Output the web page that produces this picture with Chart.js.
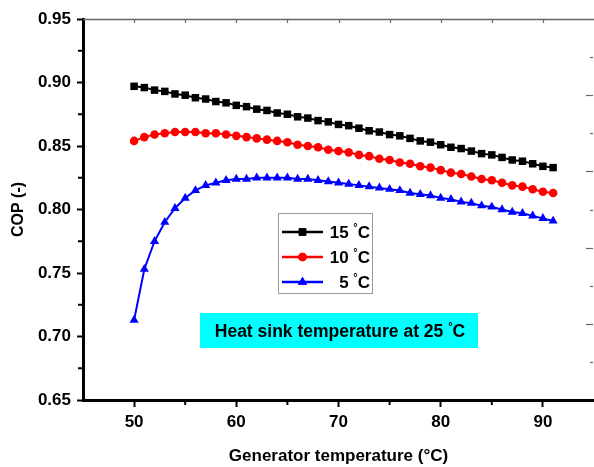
<!DOCTYPE html>
<html><head><meta charset="utf-8">
<script src="https://cdn.jsdelivr.net/npm/chart.js@4.4.0/dist/chart.umd.min.js"></script>
<style>html,body{margin:0;padding:0;background:#fff;}#wrap{width:594px;height:467px;}</style>
</head><body><div id="wrap"><canvas id="c" width="594" height="467"></canvas></div>
<script>
const genTemp = [50,51,52,53,54,55,56,57,58,59,60,61,62,63,64,65,66,67,68,69,70,71,72,73,74,75,76,77,78,79,80,81,82,83,84,85,86,87,88,89,90,91];
const cop15 = [0.897,0.896,0.894,0.893,0.891,0.890,0.888,0.887,0.885,0.884,0.882,0.881,0.879,0.878,0.876,0.875,0.873,0.872,0.870,0.869,0.867,0.866,0.864,0.862,0.861,0.859,0.858,0.856,0.854,0.853,0.851,0.849,0.848,0.846,0.844,0.843,0.841,0.839,0.838,0.836,0.834,0.833];
const cop10 = [0.854,0.857,0.859,0.860,0.861,0.861,0.861,0.860,0.860,0.859,0.858,0.857,0.856,0.855,0.854,0.853,0.851,0.850,0.849,0.847,0.846,0.845,0.843,0.842,0.840,0.839,0.837,0.836,0.834,0.833,0.831,0.829,0.828,0.826,0.824,0.823,0.821,0.819,0.818,0.816,0.814,0.813];
const cop5 = [0.713,0.753,0.775,0.790,0.801,0.809,0.815,0.819,0.821,0.823,0.824,0.824,0.825,0.825,0.825,0.825,0.824,0.824,0.823,0.822,0.821,0.820,0.819,0.818,0.817,0.816,0.815,0.813,0.812,0.811,0.809,0.808,0.806,0.805,0.803,0.802,0.800,0.798,0.797,0.795,0.793,0.791];
const seriesLabels = ['15 °C','10 °C','5 °C'];
const xTickLabels = [50,60,70,80,90];
const xMinorTicks = [55,65,75,85];
const yTickLabels = [0.65,0.70,0.75,0.80,0.85,0.90,0.95];
const yMinorTicks = [0.675,0.725,0.775,0.825,0.875,0.925];
const xTitle = 'Generator temperature (°C)';
const yTitle = 'COP (-)';
const noteText = 'Heat sink temperature at 25 °C';

const FAM = "'Liberation Sans', Arial, sans-serif";
const BOLD = (s) => 'bold ' + s + 'px ' + FAM;

function drawSupText(ctx, text, x, y, align, size) {
  const i = text.indexOf('°');
  const pre = text.slice(0, i), post = text.slice(i + 1);
  ctx.font = BOLD(size); const w1 = ctx.measureText(pre).width, w3 = ctx.measureText(post).width;
  ctx.font = BOLD(Math.round(size * 0.65)); const w2 = ctx.measureText('°').width;
  const tot = w1 + w2 + w3;
  let sx = align === 'right' ? x - tot : align === 'center' ? x - tot / 2 : x;
  ctx.textAlign = 'left'; ctx.textBaseline = 'alphabetic'; ctx.fillStyle = '#000';
  ctx.font = BOLD(size); ctx.fillText(pre, sx, y);
  ctx.font = BOLD(Math.round(size * 0.65)); ctx.fillText('°', sx + w1, y - size * 0.42);
  ctx.font = BOLD(size); ctx.fillText(post, sx + w1 + w2, y);
}

const framePlugin = {
  id: 'frame',
  afterDraw(chart) {
    const {ctx, chartArea: a, scales: {x, y}} = chart;
    ctx.save();
    // top border
    ctx.strokeStyle = '#666'; ctx.lineWidth = 1.5;
    ctx.beginPath(); ctx.moveTo(a.left, a.top + 0.5); ctx.lineTo(a.right, a.top + 0.5); ctx.stroke();
    ctx.lineWidth = 1.2;
    [...xTickLabels, ...xMinorTicks].forEach(v => {
      const px = Math.round(x.getPixelForValue(v)) + 0.5;
      ctx.beginPath(); ctx.moveTo(px, a.top); ctx.lineTo(px, a.top + 4); ctx.stroke();
    });
    // right inward ticks
    for (let k = 1; k < 10; k++) {
      const py = Math.round(a.top + (a.bottom - a.top) * k / 10) + 0.5;
      const len = k % 2 === 0 ? 7 : 3;
      ctx.beginPath(); ctx.moveTo(a.right - 1, py); ctx.lineTo(a.right - 1 - len, py); ctx.stroke();
    }
    // minor ticks
    ctx.strokeStyle = '#000'; ctx.lineWidth = 2;
    xMinorTicks.forEach(v => {
      const px = x.getPixelForValue(v);
      ctx.beginPath(); ctx.moveTo(px, a.bottom); ctx.lineTo(px, a.bottom + 5); ctx.stroke();
    });
    yMinorTicks.forEach(v => {
      const py = y.getPixelForValue(v);
      ctx.beginPath(); ctx.moveTo(a.left, py); ctx.lineTo(a.left - 5, py); ctx.stroke();
    });
    // legend box
    const lx = 278, ly = 213, lw = 94, lh = 80;
    ctx.fillStyle = '#fff'; ctx.fillRect(lx, ly, lw, lh);
    ctx.strokeStyle = '#999'; ctx.lineWidth = 1;
    ctx.strokeRect(lx + 0.5, ly + 0.5, lw, lh);
    chart.data.datasets.forEach((ds, i) => {
      const ry = ly + 19 + i * 25;
      ctx.strokeStyle = ds.borderColor; ctx.lineWidth = 2.5;
      ctx.beginPath(); ctx.moveTo(lx + 4, ry); ctx.lineTo(lx + 45, ry); ctx.stroke();
      ctx.fillStyle = ds.backgroundColor;
      Chart.helpers.drawPoint(ctx, {pointStyle: ds.pointStyle, radius: ds.pointRadius, borderWidth: 0, rotation: 0}, lx + 24.5, ry);
      ctx.fill();
      drawSupText(ctx, ds.label, lx + 92, ry + 6, 'right', 17);
    });
    // note box
    ctx.fillStyle = '#00FFFF'; ctx.fillRect(200, 313, 278, 35);
    drawSupText(ctx, noteText, 340, 337, 'center', 17.5);
    ctx.restore();
  }
};

const mk = (label, vals, color, style, r) => ({
  label, data: genTemp.map((t, i) => ({x: t, y: vals[i]})),
  borderColor: color, backgroundColor: color, pointStyle: style, pointRadius: r,
  pointBorderWidth: 0, borderWidth: 2, tension: 0
});

new Chart(document.getElementById('c'), {
  type: 'line',
  data: {datasets: [
    mk(seriesLabels[0], cop15, '#000000', 'rect', 5.3),
    mk(seriesLabels[1], cop10, '#FF0000', 'circle', 4.3),
    mk(seriesLabels[2], cop5, '#0000FF', 'triangle', 5.3)
  ]},
  options: {
    responsive: false, animation: false, devicePixelRatio: 1,
    layout: {autoPadding: false, padding: {top: 19, right: 0, left: 0, bottom: 0}},
    plugins: {legend: {display: false}, tooltip: {enabled: false}},
    scales: {
      x: {
        type: 'linear', min: 45, max: 95,
        afterBuildTicks: s => { s.ticks = xTickLabels.map(v => ({value: v})); },
        afterFit: s => { s.height = 67; s.paddingLeft = 0; s.paddingRight = 0; },
        ticks: {font: {family: FAM, size: 17, weight: 'bold'}, color: '#000', padding: 5, maxRotation: 0, autoSkip: false, callback: v => String(v)},
        grid: {drawOnChartArea: false, tickLength: 7, tickWidth: 2, tickColor: '#000'},
        border: {color: '#000', width: 3},
        title: {display: true, text: xTitle, color: '#000', font: {family: FAM, size: 17, weight: 'bold'}, padding: {top: 0, bottom: 0}}
      },
      y: {
        min: 0.65, max: 0.95,
        afterBuildTicks: s => { s.ticks = yTickLabels.map(v => ({value: v})); },
        afterFit: s => { s.width = 83; },
        ticks: {font: {family: FAM, size: 17, weight: 'bold'}, color: '#000', padding: 6, callback: v => v.toFixed(2)},
        grid: {drawOnChartArea: false, tickLength: 6, tickWidth: 2, tickColor: '#000'},
        border: {color: '#000', width: 3},
        title: {display: true, text: yTitle, color: '#000', font: {family: FAM, size: 16, weight: 'bold'}, padding: {top: 9, bottom: 0}}
      }
    }
  },
  plugins: [framePlugin]
});
</script></body></html>
